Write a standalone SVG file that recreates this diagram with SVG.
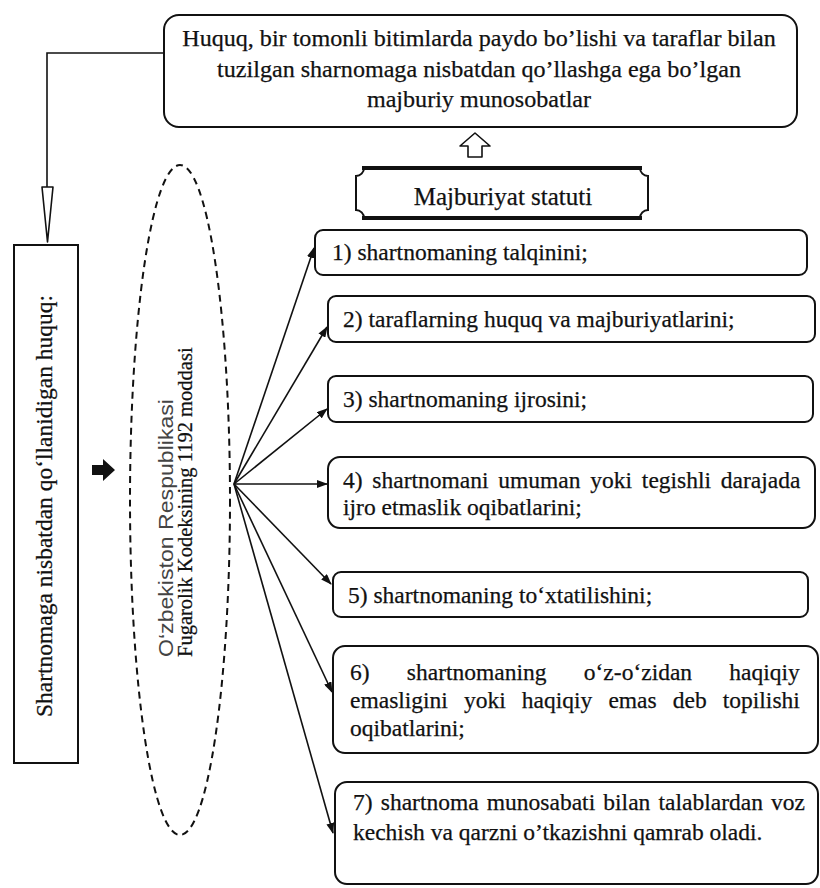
<svg xmlns="http://www.w3.org/2000/svg" width="820" height="888" viewBox="0 0 820 888">
<style>
.t{font-family:"Liberation Serif","Times New Roman",serif;font-size:23.5px;fill:#111;stroke:#111;stroke-width:0.25}
.tt{font-size:24.1px}
.box{fill:#fff;stroke:#111;stroke-width:2}
.ln{fill:none;stroke:#111;stroke-width:1.6}
.hollow{fill:#fff;stroke:#111;stroke-width:1.6;stroke-linejoin:round}
</style>
<defs>
<marker id="ah" markerUnits="userSpaceOnUse" markerWidth="11" markerHeight="8" refX="10" refY="4" orient="auto">
<path d="M0,0 L11,4 L0,8 z" fill="#111"/>
</marker>
</defs>
<rect width="820" height="888" fill="#fff"/>

<g id="connectors">
<polyline class="ln" points="164,53 47,53 47,187"/>
<polygon class="hollow" points="42,187 53,187 47.5,242"/>
<polygon class="hollow" points="475,133 490,146 482,146 482,157 468,157 468,146 460,146"/>
<polygon fill="#111" points="92,465 103,465 103,459 115,470 103,481 103,475 92,475"/>
<g stroke="#111" stroke-width="1.6" marker-end="url(#ah)">
<line x1="234" y1="484" x2="314" y2="248"/>
<line x1="234" y1="484" x2="327" y2="327"/>
<line x1="234" y1="484" x2="327" y2="409"/>
<line x1="234" y1="484" x2="327" y2="484"/>
<line x1="234" y1="484" x2="331" y2="584"/>
<line x1="234" y1="484" x2="332" y2="692"/>
<line x1="234" y1="484" x2="333" y2="833"/>
</g>
</g>

<g id="top">
<rect class="box" x="164" y="15" width="633" height="112" rx="15"/>
<text class="t tt" x="479" y="46" text-anchor="middle">Huquq, bir tomonli bitimlarda paydo bo’lishi va taraflar bilan</text>
<text class="t tt" x="479" y="77" text-anchor="middle">tuzilgan sharnomaga nisbatdan qo’llashga ega bo’lgan</text>
<text class="t tt" x="479" y="107" text-anchor="middle">majburiy munosobatlar</text>
</g>

<g id="statut">
<path d="M364,168 H640 A8,8 0 0 0 648,176 V210 A8,8 0 0 0 640,218 H364 A8,8 0 0 0 356,210 V176 A8,8 0 0 0 364,168 Z" fill="#fff" stroke="#111" stroke-width="2"/>
<line x1="362" y1="168" x2="642" y2="168" stroke="#111" stroke-width="4"/>
<line x1="362" y1="218" x2="642" y2="218" stroke="#111" stroke-width="4"/>
<text class="t" x="503" y="205" text-anchor="middle" style="font-size:25px">Majburiyat statuti</text>
</g>

<g id="left">
<rect x="14" y="245" width="64" height="518" fill="#fff" stroke="#111" stroke-width="2"/>
<text class="t" transform="rotate(-90)" x="-506" y="52" text-anchor="middle" textLength="422" lengthAdjust="spacingAndGlyphs">Shartnomaga nisbatdan qo‘llanidigan huquq:</text>
</g>

<g id="ellipse">
<ellipse cx="180" cy="500" rx="50" ry="335" fill="none" stroke="#111" stroke-width="2" stroke-dasharray="7 5"/>
<text transform="rotate(-90)" x="-657" y="173" style="font-family:'Liberation Sans',Arial,sans-serif;font-size:21px;fill:#444" textLength="258" lengthAdjust="spacingAndGlyphs">O‘zbekiston Respublikasi</text>
<text class="t" transform="rotate(-90)" x="-657" y="192" style="font-size:20.5px">Fugarolik Kodeksining 1192 moddasi</text>
</g>

<g id="b1">
<rect class="box" x="315" y="230" width="492" height="45" rx="8"/>
<text class="t" x="332" y="260">1) shartnomaning talqinini;</text>
</g>
<g id="b2">
<rect class="box" x="328" y="296" width="487" height="46" rx="8"/>
<text class="t" x="343" y="327">2) taraflarning huquq va majburiyatlarini;</text>
</g>
<g id="b3">
<rect class="box" x="328" y="376" width="485" height="46" rx="8"/>
<text class="t" x="343" y="407">3) shartnomaning ijrosini;</text>
</g>
<g id="b4">
<rect class="box" x="328" y="457" width="487" height="71" rx="12"/>
<text class="t" x="343" y="488" style="word-spacing:3.9px">4) shartnomani umuman yoki tegishli darajada</text>
<text class="t" x="343" y="515">ijro etmaslik oqibatlarini;</text>
</g>
<g id="b5">
<rect class="box" x="333" y="572" width="475" height="45" rx="8"/>
<text class="t" x="348" y="603">5) shartnomaning to‘xtatilishini;</text>
</g>
<g id="b6">
<rect class="box" x="333" y="646" width="485" height="107" rx="12"/>
<text class="t" x="350" y="680" style="word-spacing:31.4px">6) shartnomaning o‘z-o‘zidan haqiqiy</text>
<text class="t" x="350" y="708" style="word-spacing:10.2px">emasligini yoki haqiqiy emas deb topilishi</text>
<text class="t" x="350" y="736">oqibatlarini;</text>
</g>
<g id="b7">
<rect class="box" x="335" y="782" width="483" height="102" rx="12"/>
<text class="t" x="353" y="810" style="word-spacing:2.3px">7) shartnoma munosabati bilan talablardan voz</text>
<text class="t" x="353" y="840">kechish va qarzni o’tkazishni qamrab oladi.</text>
</g>
</svg>
